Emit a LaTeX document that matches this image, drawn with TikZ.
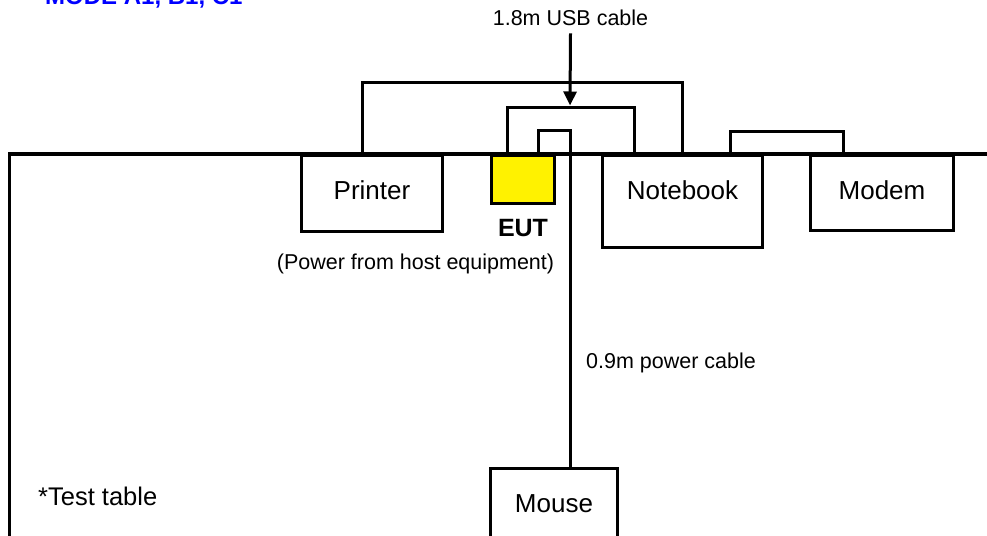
\documentclass[tikz,border=0pt]{standalone}
\usepackage{fontspec}
\setmainfont{Liberation Sans}
\usetikzlibrary{arrows.meta}
\begin{document}
\begin{tikzpicture}[x=1pt,y=-1pt,
  box/.style={draw,line width=3pt,fill=white,inner sep=0pt,anchor=north,text height=44pt,font=\fontsize{26}{30}\selectfont},
  cable/.style={line width=3pt,line join=miter},
  lbl/.style={font=\fontsize{21.5}{25}\selectfont,inner sep=0pt,anchor=base}]
\useasboundingbox (0,0) rectangle (987,535);
% title (cut at the top)
\node[anchor=base west,inner sep=0pt,text=blue,font=\fontsize{24}{28}\selectfont\bfseries] (title) at (45,5) {MODE A1, B1, C1};
% test table
\draw[line width=3.5pt] (9.5,545) -- (9.5,154) -- (995,154);
% devices
\node[box,minimum width=141pt,text depth=32pt] (printer) at (372,154) {Printer};
\node[draw,line width=3pt,fill=yellow,inner sep=0pt,anchor=north,minimum width=63pt,minimum height=48pt] (eut) at (522.5,154) {};
\node[box,minimum width=160pt,text depth=48pt] (notebook) at (682.5,154) {Notebook};
\node[box,minimum width=143pt,text depth=31pt] (modem) at (882,154) {Modem};
\node[box,minimum width=127pt,text depth=52pt] (mouse) at (554,467) {Mouse};
% labels
\node[anchor=base,inner sep=0pt,font=\fontsize{25}{29}\selectfont\bfseries] (eutlbl) at (523,236) {EUT};
\node[lbl] (power) at (415.5,269) {(Power from host equipment)};
\node[lbl] (usblbl) at (570.5,26) {1.8m USB cable};
\node[lbl,anchor=base west] (pwrlbl) at (586,368) {0.9m power cable};
\node[anchor=base west,inner sep=0pt,font=\fontsize{25.5}{29}\selectfont] (table) at (38,505) {*Test table};
% cables
\draw[cable] ([xshift=-10pt]printer.north) -- ++(0,-72) -| (notebook.north);
\draw[cable] ([xshift=-15.5pt]eut.north) -- ++(0,-47) -| ([xshift=-48.5pt]notebook.north);
\draw[cable] ([xshift=15.5pt]eut.north) -- ++(0,-24) -| ([xshift=16pt]mouse.north);
\draw[cable] ([xshift=47.5pt]notebook.north) -- ++(0,-23) -| ([xshift=-39pt]modem.north);
\coordinate (usbpt) at (570,105.5);
\draw[cable,-{Triangle[length=14pt,width=13pt]}] ([yshift=-7pt]usblbl.south) -- (usbpt);
\end{tikzpicture}
\end{document}
